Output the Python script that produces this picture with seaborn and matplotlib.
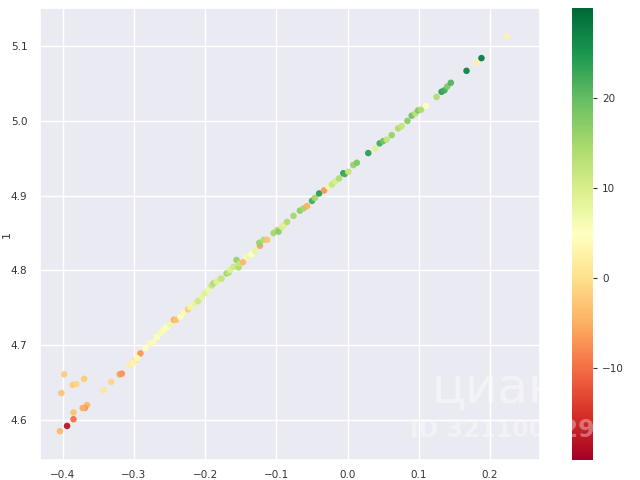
import numpy as np
import pandas as pd
import seaborn as sns
import matplotlib
matplotlib.use("Agg")
import matplotlib.pyplot as plt

# points: column 0, column 1, colour value
col0 = [-0.398, -0.386, -0.381, -0.370, -0.402, -0.343, -0.332, -0.320, -0.317, -0.366,
        -0.369, -0.372, -0.385, -0.385, -0.394, -0.404, -0.306, -0.298, -0.294, -0.291,
        -0.296, -0.301, -0.284, -0.277, -0.273, -0.268, -0.263, -0.259, -0.254, -0.249,
        -0.244, -0.241, -0.235, -0.231, -0.224, -0.221, -0.214, -0.210, -0.205, -0.200,
        -0.196, -0.191, -0.188, -0.184, -0.179, -0.177, -0.170, -0.167, -0.165, -0.160,
        -0.156, -0.153, -0.152, -0.147, -0.142, -0.139, -0.135, -0.130, -0.123, -0.124,
        -0.118, -0.113, -0.104, -0.099, -0.097, -0.092, -0.089, -0.085, -0.076, -0.067,
        -0.062, -0.057, -0.050, -0.046, -0.040, -0.033, -0.027, -0.022, -0.018, -0.012,
        -0.006, -0.004, 0.001, 0.008, 0.013, 0.029, 0.039, 0.045, 0.050, 0.055,
        0.062, 0.071, 0.076, 0.084, 0.090, 0.095, 0.099, 0.103, 0.110, 0.125,
        0.132, 0.136, 0.140, 0.145, 0.167, 0.181, 0.188, 0.223]
col1 = [4.661, 4.647, 4.648, 4.655, 4.636, 4.640, 4.651, 4.661, 4.662, 4.620,
        4.616, 4.616, 4.610, 4.601, 4.592, 4.585, 4.674, 4.680, 4.687, 4.689,
        4.683, 4.676, 4.696, 4.703, 4.704, 4.711, 4.716, 4.720, 4.724, 4.728,
        4.734, 4.734, 4.738, 4.743, 4.748, 4.751, 4.756, 4.759, 4.765, 4.770,
        4.774, 4.780, 4.783, 4.785, 4.789, 4.789, 4.796, 4.797, 4.801, 4.805,
        4.814, 4.804, 4.809, 4.811, 4.818, 4.818, 4.822, 4.826, 4.833, 4.837,
        4.841, 4.841, 4.850, 4.854, 4.852, 4.858, 4.861, 4.865, 4.873, 4.880,
        4.883, 4.886, 4.893, 4.897, 4.903, 4.907, 4.912, 4.915, 4.919, 4.923,
        4.930, 4.929, 4.932, 4.941, 4.944, 4.957, 4.963, 4.970, 4.973, 4.975,
        4.981, 4.990, 4.993, 5.000, 5.007, 5.010, 5.014, 5.015, 5.020, 5.032,
        5.039, 5.041, 5.046, 5.051, 5.067, 5.078, 5.084, 5.113]
colour = [-2, -2, -1, -2, -3, 1, -1, -6, -7, -4,
          -7, -5, -3, -10, -18, -4, 2, 0, 3, -7,
          4, 3, 5, 6, 4, 5, 6, 4, 5, 7,
          -5, -3, 5, 6, -2, 7, 8, 11, 8, 9,
          7, 12, 14, 9, 10, 12, 15, 13, 9, 11,
          16, 14, 12, -4, 6, 7, 5, 8, -6, 16,
          14, -3, 15, 13, 17, 10, 9, 14, 15, 17,
          15, -5, 22, 15, 24, -7, 7, 12, 10, 14,
          24, 22, 12, 16, 18, 24, 9, 22, 19, 12,
          16, 14, 12, 17, 19, 13, 18, 14, 5, 14,
          24, 22, 18, 21, 27, 3, 28, 3]

df = pd.DataFrame({"0": col0, "1": col1, "c": colour})

sns.set_theme(style="darkgrid")
plt.rcParams['font.family'] = ['DejaVu Sans']

fig = plt.figure(figsize=(6.4, 4.8), dpi=100)
ax = fig.add_axes([0.0625, 0.0417, 0.781, 0.9416])
cax = fig.add_axes([0.894, 0.0417, 0.033, 0.9416])

vmin, vmax = -20.2, 30
sns.scatterplot(data=df, x="0", y="1", hue="c", palette="RdYlGn",
                hue_norm=(vmin, vmax), s=22, linewidth=0, alpha=0.95,
                legend=False, ax=ax)

ax.set_xlim(-0.432, 0.270)
ax.set_ylim(4.5465, 5.151)
ax.set_xticks([-0.4, -0.3, -0.2, -0.1, 0.0, 0.1, 0.2])
ax.set_yticks([4.6, 4.7, 4.8, 4.9, 5.0, 5.1])
ax.tick_params(axis="x", labelsize=7.5, colors="#333333", pad=1)
ax.tick_params(axis="y", labelsize=7.5, colors="#333333", pad=3)
ax.set_xlabel("")
ax.set_ylabel("1", fontsize=8, color="#333333")
ax.yaxis.set_label_coords(-0.056, 0.5)

sm = plt.cm.ScalarMappable(cmap="RdYlGn", norm=plt.Normalize(vmin, vmax))
cb = fig.colorbar(sm, cax=cax)
cb.outline.set_visible(False)
cb.set_ticks([-10, 0, 10, 20])
cb.ax.tick_params(labelsize=7.5, colors="#333333", length=3, width=0.8)
cb.ax.set_yticklabels(["\u221210", "0", "10", "20"])

# faint watermark over the picture
fig.text(0.675, 0.16, "циан", fontsize=36, color="white", alpha=0.45)
fig.text(0.64, 0.09, "ID 321100529", fontsize=17, color="white", alpha=0.35,
         fontweight="bold")

fig.savefig("out.png", dpi=100)
